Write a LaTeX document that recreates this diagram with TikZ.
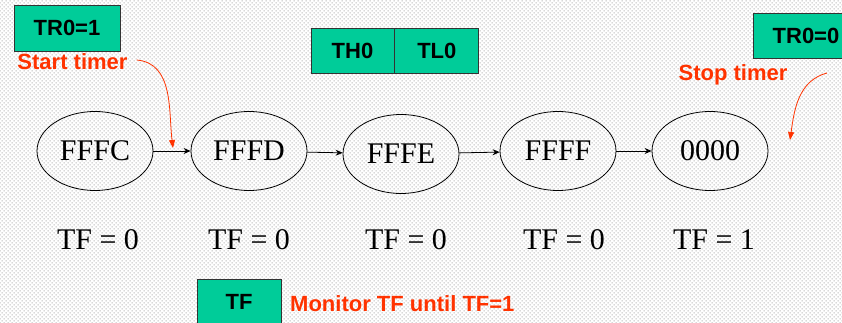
\documentclass[tikz,border=0pt]{standalone}
\usepackage{fontspec}
\setmainfont{Liberation Serif}
\setsansfont{Liberation Sans}
\usetikzlibrary{
  arrows.meta,
  patterns,
  positioning,
  shapes.geometric
}
\definecolor{timerTeal}{HTML}{00CC99}
\definecolor{timerRed}{HTML}{FF3300}
\definecolor{timerDots}{HTML}{A6A6A6}
% light dotted paper behind the slide
\pgfdeclarepatternformonly{paperDots}{\pgfqpoint{-1pt}{-1pt}}{\pgfqpoint{3pt}{3pt}}{\pgfqpoint{4pt}{4pt}}{%
  \pgfpathrectangle{\pgfqpoint{-0.5pt}{-0.5pt}}{\pgfqpoint{1pt}{1pt}}%
  \pgfpathrectangle{\pgfqpoint{1.5pt}{1.5pt}}{\pgfqpoint{1pt}{1pt}}%
  \pgfusepath{fill}}
\tikzset{
  timerBox/.style={
    draw=black!80,
    fill=timerTeal,
    line width=0.8pt,
    minimum width=106pt,
    minimum height=46pt,
    inner sep=0pt,
    font=\sffamily\bfseries\fontsize{22}{24}\selectfont
  },
  countState/.style={
    ellipse,
    draw,
    line width=0.8pt,
    minimum width=116pt,
    minimum height=79pt,
    inner sep=0pt,
    font=\fontsize{30}{32}\selectfont
  },
  flagLabel/.style={anchor=base, inner sep=0pt, font=\fontsize{30}{32}\selectfont},
  noteLabel/.style={
    text=timerRed,
    inner sep=0pt,
    font=\sffamily\bfseries\fontsize{22}{24}\selectfont
  },
  countArrow/.style={-{Stealth[length=7pt,width=6pt]}, line width=0.8pt},
  noteArrow/.style={-{Triangle[length=8pt,width=6pt]}, line width=0.8pt, timerRed}
}

\begin{document}
\begin{tikzpicture}[x=1pt,y=1pt]
  \clip (0,0) rectangle (842,323);
  \fill[white] (0,0) rectangle (842,323);
  \fill[pattern=paperDots, pattern color=timerDots] (0,0) rectangle (842,323);

  % timer control bits and registers
  \node[timerBox] (trOne) at (67,295) {TR0=1};
  \node[timerBox, minimum width=83pt, minimum height=45pt] (thZero) at (352.5,272.5) {TH0};
  \node[timerBox, minimum width=84pt, minimum height=45pt, right=0pt of thZero] (tlZero) {TL0};
  \node[timerBox, minimum height=45pt] (trZero) at (806,287.5) {TR0=0};
  \node[timerBox, minimum width=84pt] (tfBox) at (239,21) {TF};

  \node[noteLabel] (startNote) at (72.5,261) {Start timer};
  \node[noteLabel] (stopNote) at (733,248) {Stop timer};
  \node[noteLabel, anchor=west] (monitorNote) at (290,19.5) {Monitor TF until TF=1};

  % counter states
  \node[countState] (sFFFC) at (95,172) {FFFC};
  \node[countState] (sFFFD) at (249,172) {FFFD};
  \node[countState] (sFFFE) at (401,169) {FFFE};
  \node[countState] (sFFFF) at (558,172) {FFFF};
  \node[countState] (sZero) at (710,172) {0000};

  \draw[countArrow] (sFFFC) -- (sFFFD);
  \draw[countArrow] (sFFFD) -- (sFFFE);
  \draw[countArrow] (sFFFE) -- (sFFFF);
  \draw[countArrow] (sFFFF) -- (sZero);

  \node[flagLabel] (tfA) at (98,73) {TF = 0};
  \node[flagLabel] (tfB) at (249,73) {TF = 0};
  \node[flagLabel] (tfC) at (406,73) {TF = 0};
  \node[flagLabel] (tfD) at (564,73) {TF = 0};
  \node[flagLabel] (tfE) at (714,73) {TF = 1};

  % start / stop pointers
  \coordinate (startTip) at (173,175);
  \coordinate (stopFrom) at (827,250);
  \coordinate (stopTip) at (790,183);
  \draw[noteArrow] ([xshift=9pt,yshift=2pt]startNote.east) to[out=-5,in=97] (startTip);
  \draw[noteArrow] (stopFrom) to[out=195,in=82] (stopTip);
\end{tikzpicture}
\end{document}
